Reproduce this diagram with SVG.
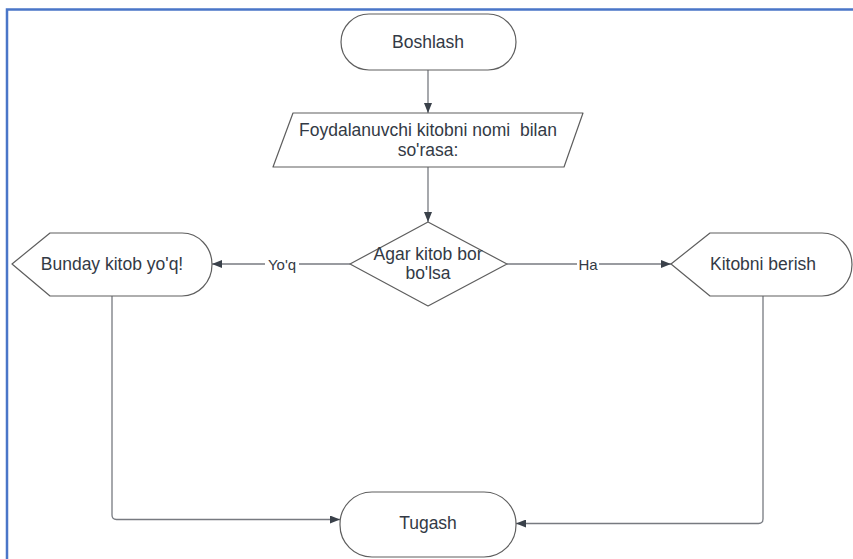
<svg xmlns="http://www.w3.org/2000/svg" width="853" height="559" viewBox="0 0 853 559">
<defs>
<marker id="arr" markerWidth="10" markerHeight="8" refX="10" refY="4" orient="auto" markerUnits="userSpaceOnUse">
<path d="M0,0 L10,4 L0,8 Z" fill="#3a414a"/>
</marker>
<style>
.shape{fill:#ffffff;stroke:#5e5e5e;stroke-width:1.2;stroke-linejoin:round}
.t{font-family:"Liberation Sans",Arial,sans-serif;font-size:17.5px;fill:#333a45;text-anchor:middle;dominant-baseline:central}
.conn{fill:none;stroke:#777a80;stroke-width:1.3}
.lbl{font-family:"Liberation Sans",Arial,sans-serif;font-size:15px;fill:#333a45;text-anchor:middle;dominant-baseline:central}
</style>
</defs>
<rect width="853" height="559" fill="#ffffff"/>
<path d="M7,559 L7,9.5 L853,9.5" fill="none" stroke="#4a76c8" stroke-width="2.5"/>
<g id="connectors">
<line class="conn" x1="428" y1="70" x2="428" y2="113" marker-end="url(#arr)"/>
<line class="conn" x1="428" y1="167" x2="428" y2="222" marker-end="url(#arr)"/>
<line class="conn" x1="350" y1="264" x2="212" y2="264" marker-end="url(#arr)"/>
<rect x="265" y="256" width="34" height="16" fill="#ffffff"/>
<text class="lbl" x="282" y="264">Yo'q</text>
<line class="conn" x1="507" y1="264" x2="671" y2="264" marker-end="url(#arr)"/>
<rect x="577" y="256" width="22" height="16" fill="#ffffff"/>
<text class="lbl" x="588" y="264">Ha</text>
<path class="conn" d="M112,296 L112,515 Q112,519.5 116.5,519.5 L340,519.5" marker-end="url(#arr)"/>
<path class="conn" d="M763,296 L763,519 Q763,523.5 758.5,523.5 L516,523.5" marker-end="url(#arr)"/>
</g>
<g id="boshlash">
<rect class="shape" x="341" y="14" width="175" height="56" rx="28" ry="28"/>
<text class="t" x="428" y="42">Boshlash</text>
</g>
<g id="kiritish">
<polygon class="shape" points="293,113 583,113 564,167 273,167"/>
<text class="t" x="428" y="130" xml:space="preserve">Foydalanuvchi kitobni nomi  bilan</text>
<text class="t" x="428" y="150">so'rasa:</text>
</g>
<g id="shart">
<polygon class="shape" points="428,222 507,264 428,306 350,264"/>
<text class="t" x="428" y="254">Agar kitob bor</text>
<text class="t" x="428" y="273">bo'lsa</text>
</g>
<g id="yoq">
<path class="shape" d="M12,264 L50,233 L182,233 A30,31.5 0 0 1 182,296 L50,296 Z"/>
<text class="t" x="112" y="264">Bunday kitob yo'q!</text>
</g>
<g id="berish">
<path class="shape" d="M671,264 L710,233 L822,233 A30,31.5 0 0 1 822,296 L710,296 Z"/>
<text class="t" x="763" y="264">Kitobni berish</text>
</g>
<g id="tugash">
<rect class="shape" x="340" y="492" width="176" height="65" rx="32" ry="32"/>
<text class="t" x="428" y="523">Tugash</text>
</g>
</svg>
